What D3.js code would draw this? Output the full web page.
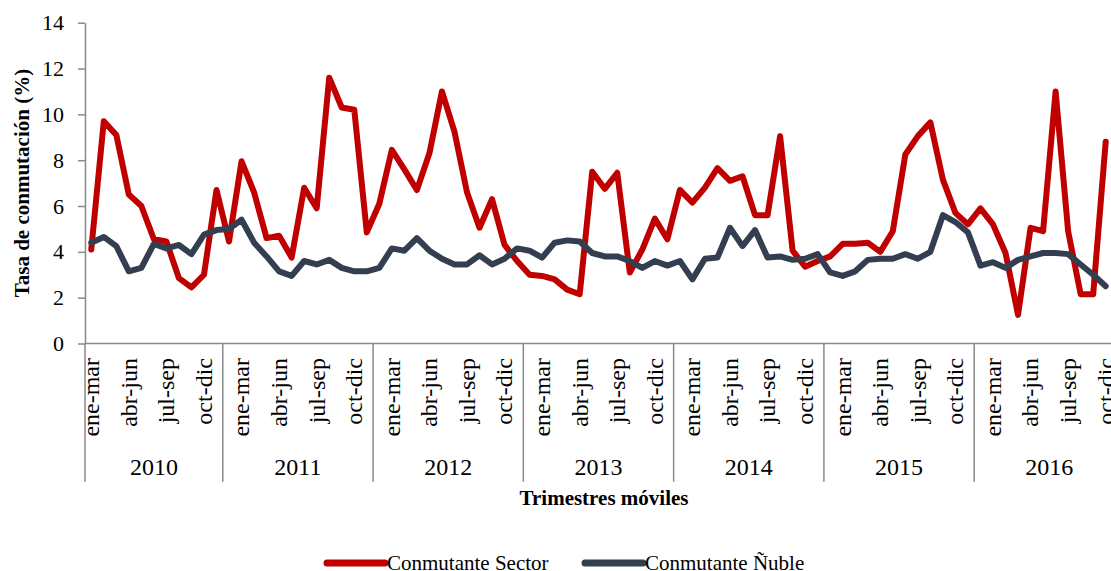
<!DOCTYPE html>
<html>
<head>
<meta charset="utf-8">
<script src="https://cdn.jsdelivr.net/npm/d3@7"></script>
<style>
  body { margin: 0; background: #fff; }
  svg { display: block; font-family: "Liberation Serif", "Times New Roman", serif; }
</style>
</head>
<body>
<svg id="chart" width="1111" height="571"></svg>
<script>
// rolling quarters (trimestres moviles) and years
const years = ["2010", "2011", "2012", "2013", "2014", "2015", "2016"];
const months = ["dic-feb", "ene-mar", "feb-abr", "mar-may", "abr-jun", "may-jul",
  "jun-ago", "jul-sep", "ago-oct", "sep-nov", "oct-dic", "nov-ene"];
const shownMonths = ["ene-mar", "abr-jun", "jul-sep", "oct-dic"];
const yTicks = [0, 2, 4, 6, 8, 10, 12, 14];

const sector = [
  4.1, 9.7, 9.1, 6.5, 6.0, 4.55, 4.45, 2.85, 2.45, 3.0, 6.7,
  4.45, 7.95, 6.6, 4.6, 4.7, 3.75, 6.8, 5.9, 11.6, 10.3, 10.2, 4.85,
  6.1, 8.45, 7.6, 6.7, 8.3, 11.0, 9.25, 6.6, 5.05, 6.3, 4.3, 3.6,
  3.0, 2.95, 2.8, 2.35, 2.15, 7.5, 6.75, 7.45, 3.1, 4.1, 5.45, 4.55,
  6.7, 6.15, 6.8, 7.65, 7.1, 7.3, 5.6, 5.6, 9.05, 4.05, 3.35, 3.6,
  3.8, 4.35, 4.35, 4.4, 4.0, 4.9, 8.25, 9.05, 9.65, 7.15, 5.7, 5.2,
  5.9, 5.2, 3.95, 1.25, 5.05, 4.9, 11.0, 4.9, 2.15, 2.15, 8.8
];
const nuble = [
  4.4, 4.65, 4.25, 3.15, 3.3, 4.35, 4.15, 4.3, 3.9, 4.75, 4.95,
  5.0, 5.4, 4.4, 3.8, 3.15, 2.95, 3.6, 3.45, 3.65, 3.3, 3.15, 3.15,
  3.3, 4.15, 4.05, 4.6, 4.05, 3.7, 3.45, 3.45, 3.85, 3.45, 3.7, 4.15,
  4.05, 3.75, 4.4, 4.5, 4.45, 3.95, 3.8, 3.8, 3.6, 3.3, 3.6, 3.4,
  3.6, 2.8, 3.7, 3.75, 5.05, 4.25, 4.95, 3.75, 3.8, 3.65, 3.7, 3.9,
  3.1, 2.95, 3.15, 3.65, 3.7, 3.7, 3.9, 3.7, 4.0, 5.6, 5.3, 4.85,
  3.4, 3.55, 3.3, 3.65, 3.8, 3.95, 3.95, 3.9, 3.45, 3.0, 2.5
];

const series = [
  { name: "Conmutante Sector", values: sector, color: "#C00000" },
  { name: "Conmutante Ñuble", values: nuble, color: "#333F50" }
];

// category list: 2010 starts at ene-mar, every later year starts at dic-feb
const cats = [];
years.forEach((yr, k) => {
  months.forEach((m, j) => {
    if (k === 0 && j === 0) return;
    cats.push({ year: yr, month: m });
  });
});

const axisColor = "#898989";
const plotLeft = 85, plotTop = 22.7, plotBottom = 343.5;
const band = 12.524;

const svg = d3.select("#chart");

const x = d3.scaleBand()
  .domain(d3.range(cats.length))
  .range([plotLeft, plotLeft + band * cats.length]);

const y = d3.scaleLinear().domain([0, 14]).range([plotBottom, plotTop]);

const cx = i => x(i) + x.bandwidth() / 2;

// y axis
const yAxis = svg.append("g")
  .attr("transform", `translate(${plotLeft},0)`)
  .call(d3.axisLeft(y).tickValues(yTicks).tickSize(7).tickPadding(14).tickSizeOuter(0));
yAxis.select(".domain").attr("stroke", axisColor).attr("stroke-width", 1.5);
yAxis.selectAll(".tick line").attr("stroke", axisColor).attr("stroke-width", 1.5);
yAxis.selectAll(".tick text")
  .attr("fill", "#000")
  .style("font-size", "22px")
  .style("font-family", "Liberation Serif");

// x axis line
svg.append("line")
  .attr("x1", plotLeft).attr("x2", x.range()[1])
  .attr("y1", plotBottom).attr("y2", plotBottom)
  .attr("stroke", axisColor).attr("stroke-width", 1.5);

// year separators
const yearStarts = years.map(yr => cats.findIndex(c => c.year === yr));
svg.append("g").selectAll("line")
  .data(yearStarts)
  .join("line")
  .attr("x1", i => x(i)).attr("x2", i => x(i))
  .attr("y1", plotBottom).attr("y2", 481.7)
  .attr("stroke", axisColor).attr("stroke-width", 1.5);

// year labels
svg.append("g").selectAll("text")
  .data(years)
  .join("text")
  .attr("x", (yr, k) => {
    const a = yearStarts[k];
    const b = k + 1 < years.length ? yearStarts[k + 1] : cats.length;
    return (x(a) + x(b - 1) + x.bandwidth()) / 2;
  })
  .attr("y", 475)
  .attr("text-anchor", "middle")
  .style("font-size", "24px")
  .text(d => d);

// month labels
const monthIdx = cats.map((c, i) => i).filter(i => shownMonths.includes(cats[i].month));
svg.append("g").selectAll("text")
  .data(monthIdx)
  .join("text")
  .attr("transform", i => `translate(${cx(i)},358) rotate(-90)`)
  .attr("text-anchor", "end")
  .attr("dy", "0.33em")
  .style("font-size", "24px")
  .text(i => cats[i].month);

// lines
const line = d3.line()
  .x((d, i) => cx(i))
  .y(d => y(d));

svg.append("g").selectAll("path")
  .data(series)
  .join("path")
  .attr("d", s => line(s.values))
  .attr("fill", "none")
  .attr("stroke", s => s.color)
  .attr("stroke-width", 6)
  .attr("stroke-linejoin", "round")
  .attr("stroke-linecap", "round");

// axis titles
svg.append("text")
  .attr("transform", `translate(22,${(plotTop + plotBottom) / 2}) rotate(-90)`)
  .attr("text-anchor", "middle")
  .attr("dy", "0.35em")
  .style("font-size", "21px")
  .style("font-weight", "bold")
  .text("Tasa de conmutación (%)");

svg.append("text")
  .attr("x", 604)
  .attr("y", 505)
  .attr("text-anchor", "middle")
  .style("font-size", "21px")
  .style("font-weight", "bold")
  .text("Trimestres móviles");

// legend
const legendPos = [327, 585];
const lg = svg.append("g").selectAll("g")
  .data(series)
  .join("g")
  .attr("transform", (s, i) => `translate(${legendPos[i]},563)`);
lg.append("line")
  .attr("x1", 0).attr("x2", 58)
  .attr("stroke", s => s.color)
  .attr("stroke-width", 7)
  .attr("stroke-linecap", "round");
lg.append("text")
  .attr("x", 60)
  .attr("y", 7)
  .style("font-size", "21px")
  .text(s => s.name);
</script>
</body>
</html>
